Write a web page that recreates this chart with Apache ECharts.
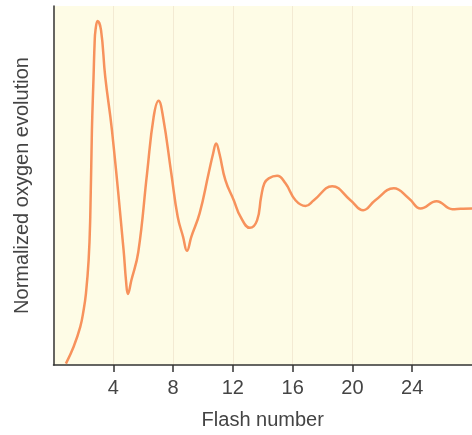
<!DOCTYPE html>
<html>
<head>
<meta charset="utf-8">
<script src="https://cdn.jsdelivr.net/npm/echarts@6/dist/echarts.min.js"></script>
<style>html,body{margin:0;padding:0;background:#fff}#c{width:472px;height:435px}</style>
</head>
<body>
<div id="c"></div>
<script>
var flashNumber = [0.83,1.34,1.79,2.01,2.17,2.35,2.46,2.57,2.68,2.75,2.81,2.95,3.18,3.46,3.91,4.69,4.85,4.98,5.21,5.67,6.26,6.70,7.03,7.33,7.88,8.31,8.67,8.93,9.22,9.78,10.38,10.68,10.88,11.10,11.50,12.06,12.51,13.14,13.62,13.89,14.11,14.40,14.96,15.52,16.19,16.86,17.42,18.65,19.87,20.72,21.53,22.77,23.78,24.56,25.63,26.69,27.24,28.0];
var oxygen = [0.4,5.0,10.6,15.2,19.9,29.2,41.3,65.4,80.3,89.6,93.3,95.8,93.3,80.3,65.4,32.0,23.6,19.8,23.6,31.4,53.4,69.1,73.6,69.1,53.4,41.3,35.7,31.8,35.7,42.3,53.4,58.9,61.7,58.9,51.5,45.9,41.3,38.2,40.3,46.8,50.6,52.0,52.7,50.6,45.9,44.3,45.9,49.8,45.9,43.1,45.9,49.2,46.4,43.6,45.6,43.4,43.5,43.6];
var xTicks = [4,8,12,16,20,24];

var pts = flashNumber.map(function(x,i){return [x, oxygen[i]];});
var chart = echarts.init(document.getElementById('c'));
chart.setOption({
  animation:false,
  grid:{left:53.5,right:0,top:6,bottom:70,show:true,backgroundColor:'#FEFCE6',borderWidth:0},
  xAxis:{
    type:'value',min:0,max:28,interval:4,
    name:'Flash number',nameLocation:'middle',nameGap:45,
    nameTextStyle:{fontFamily:'Liberation Sans',fontSize:20,color:'#444'},
    axisLine:{lineStyle:{color:'#333',width:1.5}},
    axisTick:{length:7,customValues:xTicks,lineStyle:{color:'#333',width:1.5}},
    axisLabel:{margin:13,fontFamily:'Liberation Sans',fontSize:20,color:'#444',customValues:xTicks},
    splitLine:{show:true,lineStyle:{color:'#F3EAD3',width:1}}
  },
  yAxis:{
    type:'value',min:0,max:100,
    name:'Normalized oxygen evolution',nameLocation:'middle',nameGap:21,
    nameTextStyle:{fontFamily:'Liberation Sans',fontSize:20,color:'#444'},
    axisLine:{show:true,lineStyle:{color:'#333',width:1.5}},
    axisTick:{show:false},axisLabel:{show:false},splitLine:{show:false}
  },
  series:[{
    type:'line',data:pts,showSymbol:false,smooth:0.45,
    lineStyle:{color:'#F7925C',width:2.5}
  }]
});
</script>
</body>
</html>
